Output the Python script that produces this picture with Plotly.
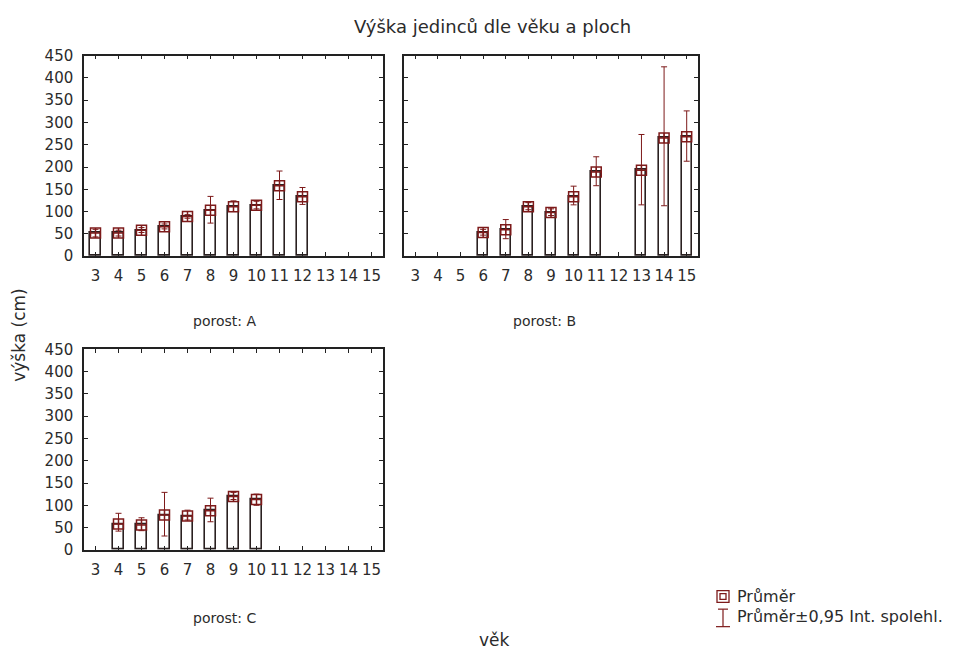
import plotly.graph_objects as go

W, H = 974, 659

ages = [3, 4, 5, 6, 7, 8, 9, 10, 11, 12, 13, 14, 15]

# porost A
a_mean = [52, 52, 58, 66, 89, 103, 111, 114, 158, 133, None, None, None]
a_lo   = [43, 45, 53, 61, 85, 74, 100, 106, 127, 116, None, None, None]
a_hi   = [60, 58, 64, 72, 93, 134, 124, 123, 191, 154, None, None, None]

# porost B
b_mean = [None, None, None, 53, 59, 111, 98, 133, 189, None, 193, 265, 268]
b_lo   = [None, None, None, 47, 39, 104, 91, 115, 158, None, 115, 113, 213]
b_hi   = [None, None, None, 60, 82, 120, 106, 157, 223, None, 273, 425, 326]

# porost C
c_mean = [None, 58, 56, 78, 76, 88, 120, 113, None, None, None, None, None]
c_lo   = [None, 42, 43, 31, 67, 63, 113, 100, None, None, None, None, None]
c_hi   = [None, 82, 72, 129, 89, 116, 129, 125, None, None, None, None, None]

yticks = [0, 50, 100, 150, 200, 250, 300, 350, 400, 450]

title_text = "Výška jedinců dle věku a ploch"
panel_labels = ["porost: A", "porost: B", "porost: C"]
x_title = "věk"
y_title = "výška (cm)"
legend_labels = ["Průměr", "Průměr±0,95 Int. spolehl."]

MAROON = "#7d1a1a"
BARLINE = "#2a2020"
TXT = "#2b2b2b"
FONT = "DejaVu Sans"


def px(x):
    return x / W


def py(y):
    return 1 - y / H


fig = go.Figure()

panels = [
    (a_mean, a_lo, a_hi, "x", "y"),
    (b_mean, b_lo, b_hi, "x2", "y2"),
    (c_mean, c_lo, c_hi, "x3", "y3"),
]

for mean, lo, hi, xa, ya in panels:
    fig.add_trace(go.Bar(
        x=ages, y=mean, xaxis=xa, yaxis=ya, width=0.44,
        marker=dict(color="white", line=dict(color=BARLINE, width=1.6)),
        showlegend=False, hoverinfo="skip",
    ))
    plus = [None if m is None else h - m for m, h in zip(mean, hi)]
    minus = [None if m is None else m - l for m, l in zip(mean, lo)]
    fig.add_trace(go.Scatter(
        x=ages, y=mean, xaxis=xa, yaxis=ya, mode="markers",
        marker=dict(symbol="square-cross-open", size=10,
                    color=MAROON, line=dict(color=MAROON, width=1.5)),
        error_y=dict(type="data", symmetric=False, array=plus,
                     arrayminus=minus, color=MAROON, thickness=1, width=3),
        showlegend=False,
    ))

common_x = dict(range=[2.5, 15.5], tickvals=ages, ticktext=[str(a) for a in ages],
                ticks="inside", ticklen=4, tickcolor="#222", showline=True,
                linecolor="#222", linewidth=1.5, mirror="ticks", showgrid=False,
                zeroline=False, tickfont=dict(family=FONT, size=15, color=TXT),
                ticklabelstandoff=5)
common_y = dict(range=[0, 450], tickvals=yticks, ticks="inside", ticklen=4,
                tickcolor="#222", showline=True, linecolor="#222", linewidth=1.5,
                mirror="ticks", showgrid=False, zeroline=False,
                tickfont=dict(family=FONT, size=15, color=TXT),
                ticklabelstandoff=6)

xa_dom = [px(84), px(383)]
xb_dom = [px(404), px(698)]
top_dom = [py(254), py(48)]
bot_dom = [py(556), py(350)]

fig.update_layout(
    width=W, height=H, margin=dict(l=0, r=0, t=0, b=0),
    paper_bgcolor="white", plot_bgcolor="white", bargap=0,
    xaxis=dict(domain=xa_dom, anchor="y", **common_x),
    yaxis=dict(domain=top_dom, anchor="x", **common_y),
    xaxis2=dict(domain=xb_dom, anchor="y2", **common_x),
    yaxis2=dict(domain=top_dom, anchor="x2", showticklabels=False, **common_y),
    xaxis3=dict(domain=xa_dom, anchor="y3", **common_x),
    yaxis3=dict(domain=bot_dom, anchor="x3", **common_y),
)


def note(text, x, y, size, xanchor="center", angle=0):
    return dict(text=text, x=px(x), y=py(y), xref="paper", yref="paper",
                xanchor=xanchor, yanchor="middle", showarrow=False,
                textangle=angle, font=dict(family=FONT, size=size, color=TXT))


ann = [note(title_text, 492, 18, 18)]
for lbl, (xx, yy) in zip(panel_labels, [(224, 321), (544, 321), (224, 626)]):
    ann.append(note(lbl, xx, yy, 14))
ann.append(note(x_title, 494, 649, 17))
ann.append(note(y_title, 19, 335, 17, angle=-90))
for lbl, yy in zip(legend_labels, [604, 625]):
    ann.append(note(lbl, 735, yy, 16, xanchor="left"))
fig.update_layout(annotations=ann)

shapes = []
# legend: mean symbol (square in square)
shapes.append(dict(type="rect", xref="paper", yref="paper",
                   x0=px(717), x1=px(729), y0=py(610), y1=py(598),
                   line=dict(color=MAROON, width=1.3)))
shapes.append(dict(type="rect", xref="paper", yref="paper",
                   x0=px(720), x1=px(726), y0=py(607), y1=py(601),
                   line=dict(color=MAROON, width=1.3)))
# legend: whisker symbol
shapes.append(dict(type="line", xref="paper", yref="paper",
                   x0=px(723), x1=px(723), y0=py(617), y1=py(635),
                   line=dict(color=MAROON, width=1.2)))
shapes.append(dict(type="line", xref="paper", yref="paper",
                   x0=px(718), x1=px(728), y0=py(617), y1=py(617),
                   line=dict(color=MAROON, width=1.2)))
shapes.append(dict(type="line", xref="paper", yref="paper",
                   x0=px(716), x1=px(730), y0=py(635), y1=py(635),
                   line=dict(color=MAROON, width=1.2)))
fig.update_layout(shapes=shapes)

fig.write_html("out.html")
